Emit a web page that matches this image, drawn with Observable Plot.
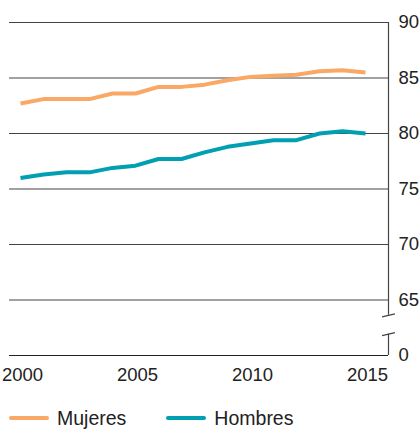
<!DOCTYPE html>
<html>
<head>
<meta charset="utf-8">
<script src="https://cdn.jsdelivr.net/npm/d3@7"></script>
<script src="https://cdn.jsdelivr.net/npm/@observablehq/plot@0.6"></script>
<style>
  html, body { margin: 0; padding: 0; background: #fff; width: 420px; height: 429px; overflow: hidden; }
  body { font-family: "Liberation Sans", Arial, sans-serif; color: #222; }
  #legend { display: flex; align-items: center; margin-top: 10px; padding-left: 9px; font-size: 19.5px; line-height: 20px; }
  .item { display: flex; align-items: center; margin-right: 40px; }
  .sw { width: 40px; height: 4px; border-radius: 2px; margin-right: 8px; }
</style>
</head>
<body>
<div id="chart"></div>
<div id="legend"></div>
<script>
const years = [2000, 2001, 2002, 2003, 2004, 2005, 2006, 2007, 2008, 2009, 2010, 2011, 2012, 2013, 2014, 2015];
const mujeres = [82.7, 83.1, 83.1, 83.1, 83.6, 83.6, 84.2, 84.2, 84.4, 84.8, 85.1, 85.2, 85.3, 85.6, 85.7, 85.5];
const hombres = [76.0, 76.3, 76.5, 76.5, 76.9, 77.1, 77.7, 77.7, 78.3, 78.8, 79.1, 79.4, 79.4, 80.0, 80.2, 80.0];
const seriesNames = ["Mujeres", "Hombres"];
const seriesColors = ["#F9A865", "#00A0B2"];
const yTicks = [0, 65, 70, 75, 80, 85, 90];
const xTicks = [2000, 2005, 2010, 2015];

const data = [
  ...years.map((year, i) => ({year, value: mujeres[i], series: seriesNames[0]})),
  ...years.map((year, i) => ({year, value: hombres[i], series: seriesNames[1]}))
];

// broken axis: values below 65 are squeezed into one 5-unit step
const cut = 65, gapUnits = 5;
const squeeze = v => v >= cut ? v : (cut - gapUnits) + v * (gapUnits / cut);

const width = 420, height = 398;
const marginTop = 22, marginBottom = 43, marginLeft = 9, marginRight = 32;
const axisX = 2016;                        // where the right axis sits
const breakHi = 47, breakLo = 25;          // axis-break positions inside the 0–65 gap
const slant = {dx: 0.28, dy: 1.8};

const chart = Plot.plot({
  width, height, marginTop, marginBottom, marginLeft, marginRight,
  style: {fontFamily: "'Liberation Sans', Arial, sans-serif", fontSize: "18.5px", color: "#222", background: "#fff", overflow: "visible"},
  x: {domain: [2000, axisX], insetLeft: 11},
  y: {domain: [cut - gapUnits, 90], transform: squeeze},
  color: {domain: seriesNames, range: seriesColors},
  marks: [
    Plot.ruleY(yTicks.filter(d => d > 0), {stroke: "#444", strokeWidth: 1}),
    Plot.ruleY([0], {stroke: "#222", strokeWidth: 1.2}),
    Plot.ruleX([axisX], {y1: breakHi, y2: 90, stroke: "#444", strokeWidth: 1.2}),
    Plot.ruleX([axisX], {y1: 0, y2: breakLo, stroke: "#444", strokeWidth: 1.2}),
    Plot.link([breakHi, breakLo], {
      x1: axisX - slant.dx, x2: axisX + slant.dx,
      y1: d => d - slant.dy, y2: d => d + slant.dy,
      stroke: "#444", strokeWidth: 1.2
    }),
    Plot.line(data, {x: "year", y: "value", z: "series", stroke: "series", strokeWidth: 4, strokeLinejoin: "round", strokeLinecap: "butt"}),
    Plot.axisY(yTicks, {anchor: "right", tickSize: 0, tickPadding: 10, label: null, fontSize: 18.5, fill: "#222"}),
    Plot.axisX(xTicks, {anchor: "bottom", tickSize: 0, tickPadding: 12, dx: 2, label: null, tickFormat: d => String(d), fontSize: 18.5, fill: "#222"})
  ]
});
document.getElementById("chart").appendChild(chart);

const legend = document.getElementById("legend");
seriesNames.forEach((name, i) => {
  const item = document.createElement("div");
  item.className = "item";
  const sw = document.createElement("div");
  sw.className = "sw";
  sw.style.background = seriesColors[i];
  const label = document.createElement("span");
  label.textContent = name;
  item.appendChild(sw);
  item.appendChild(label);
  legend.appendChild(item);
});
</script>
</body>
</html>
